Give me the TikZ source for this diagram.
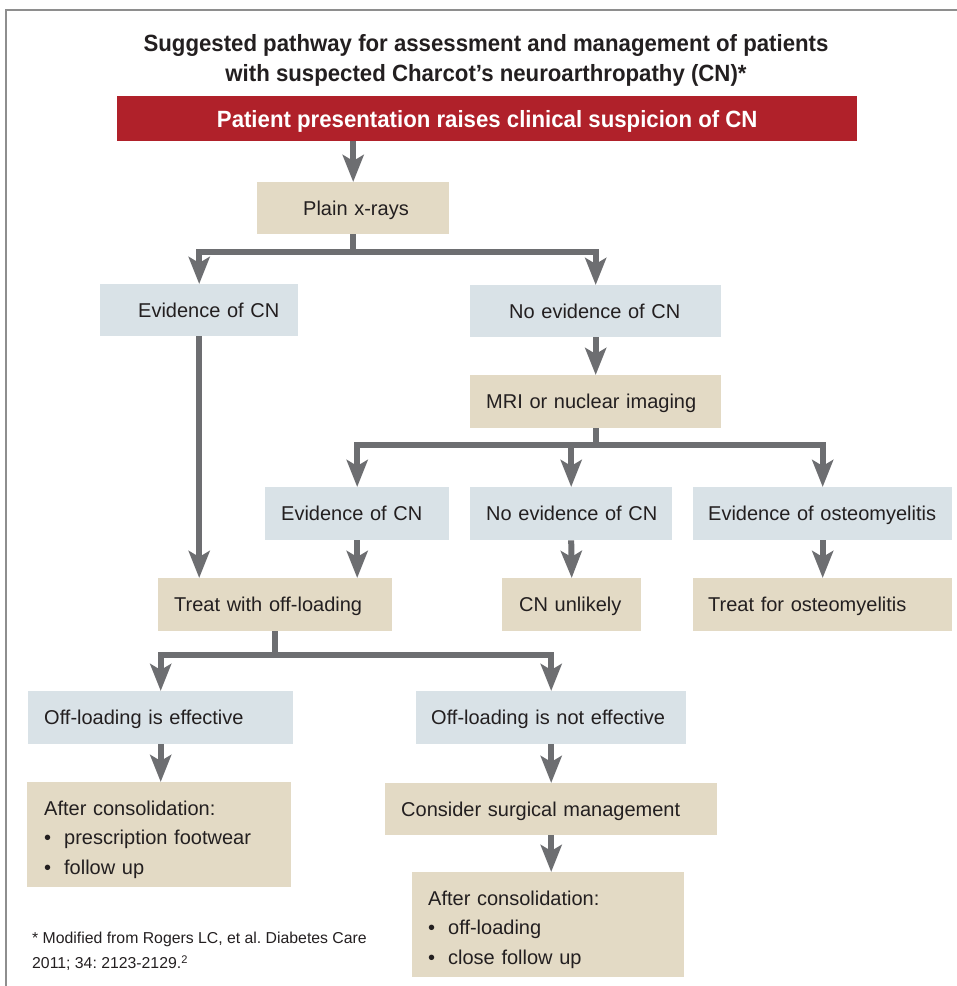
\documentclass[tikz,border=0pt]{standalone}
\usepackage{fontspec}
\setmainfont{Liberation Sans}
\newfontfamily\condfont[FakeStretch=0.945]{Liberation Sans}
\usetikzlibrary{arrows.meta}
\definecolor{cnred}{HTML}{B0212A}
\definecolor{boxbeige}{HTML}{E3DAC5}
\definecolor{boxblue}{HTML}{D9E2E7}
\definecolor{arrowgray}{HTML}{6D6E71}
\definecolor{framegray}{HTML}{8E8E8E}
\definecolor{txtdark}{HTML}{231F20}
\tikzset{lpad/.style = {execute at begin node = {\leftskip=#1\relax}}}
\frenchspacing

\begin{document}
\begin{tikzpicture}[x = 1pt, y = -1pt]
\tikzstyle{BoxStyle}=[anchor = north west,
                      inner sep = 0pt,
                      align = left,
                      minimum height = 53pt,
                      text depth = 0pt,
                      text = txtdark,
                      font = \fontsize{20}{29.5}\selectfont]
\tikzstyle{BeigeBox}=[BoxStyle, fill = boxbeige]
\tikzstyle{BlueBox}=[BoxStyle, fill = boxblue]
\tikzstyle{ListBox}=[BeigeBox, minimum height = 105pt, text depth = {}, text height = 24.3pt]
\tikzstyle{link}=[draw = arrowgray, line width = 6pt]
\tikzstyle{post}=[link, -{Stealth[length = 27pt, width = 21pt, inset = 6pt]}]
\useasboundingbox (0,0) rectangle (957,986);
% frame
\draw[framegray, line width = 2pt] (6,986) -- (6,10) -- (957,10);
% title
\node[font = \condfont\bfseries\fontsize{23.5}{29.5}\selectfont, align = center, text = txtdark] (title) at (486,60.5)
  {Suggested pathway for assessment and management of patients\\with suspected Charcot’s neuroarthropathy (CN)*};
\node[anchor = north west, fill = cnred, minimum width = 740pt, minimum height = 45pt, inner sep = 0pt, text depth = 0pt,
      text = white, font = \condfont\bfseries\fontsize{23.5}{29}\selectfont] (present) at (117,96)
  {Patient presentation raises clinical suspicion of CN};
% boxes
\node[BeigeBox, text width = 192pt, lpad = 46pt, minimum height = 52pt] (xray) at (257,182) {Plain x-rays};
\node[BlueBox, text width = 198pt, lpad = 38pt, minimum height = 52pt] (evidA) at (100,284) {Evidence of CN};
\node[BlueBox, text width = 251pt, lpad = 39pt, minimum height = 52pt] (noevidA) at (470,285) {No evidence of CN};
\node[BeigeBox, text width = 251pt, lpad = 16pt] (mri) at (470,375) {MRI or nuclear imaging};
\node[BlueBox, text width = 184pt, lpad = 16pt] (evidB) at (265,487) {Evidence of CN};
\node[BlueBox, text width = 202pt, lpad = 16pt] (noevidB) at (470,487) {No evidence of CN};
\node[BlueBox, text width = 259pt, lpad = 15pt] (osteo) at (693,487) {Evidence of osteomyelitis};
\node[BeigeBox, text width = 234pt, lpad = 16pt] (offload) at (158,578) {Treat with off-loading};
\node[BeigeBox, text width = 139pt, lpad = 17pt] (unlikely) at (502,578) {CN unlikely};
\node[BeigeBox, text width = 259pt, lpad = 15pt] (treatost) at (693,578) {Treat for osteomyelitis};
\node[BlueBox, text width = 265pt, lpad = 16pt] (works) at (28,691) {Off-loading is effective};
\node[BlueBox, text width = 270pt, lpad = 15pt] (fails) at (416,691) {Off-loading is not effective};
\node[ListBox, text width = 264pt, lpad = 17pt] (afterA) at (27,782)
  {After consolidation:\\\makebox[20pt][l]{\textbullet}prescription footwear\\\makebox[20pt][l]{\textbullet}follow up};
\node[BeigeBox, text width = 332pt, lpad = 16pt, minimum height = 52pt] (surgery) at (385,783) {Consider surgical management};
\node[ListBox, text width = 272pt, lpad = 16pt] (afterB) at (412,872)
  {After consolidation:\\\makebox[20pt][l]{\textbullet}off-loading\\\makebox[20pt][l]{\textbullet}close follow up};
% footnote
\node[anchor = west, inner sep = 0pt, align = left, text = txtdark, font = \fontsize{15.8}{25}\selectfont] (note) at (32,951)
  {* Modified from Rogers LC, et al. Diabetes Care\\2011; 34: 2123-2129.\textsuperscript{2}};
% connectors
\draw[post] (xray.north |- present.south) -- (xray.north);
\draw[link] (xray.south) -- ++(0,18) coordinate (splitA);
\draw[post] (splitA) -| (evidA.north);
\draw[post] (splitA) -| (noevidA.north);
\draw[post] (noevidA.south) -- (mri.north);
\draw[link] (mri.south) -- ++(0,17) coordinate (splitB);
\draw[post] (splitB) -| (evidB.north);
\draw[post] (splitB) -| (noevidB.north);
\draw[post] (splitB) -| (osteo.north);
\draw[post] (evidA.south) -- (evidA.south |- offload.north);
\draw[post] (evidB.south) -- (evidB.south |- offload.north);
\draw[post] (noevidB.south) -- (unlikely.north);
\draw[post] (osteo.south) -- (treatost.north);
\draw[link] (offload.south) -- ++(0,24) coordinate (splitC);
\draw[post] (splitC) -| (works.north);
\draw[post] (splitC) -| (fails.north);
\draw[post] (works.south) -- (works.south |- afterA.north);
\draw[post] (fails.south) -- (fails.south |- surgery.north);
\draw[post] (surgery.south) -- (surgery.south |- afterB.north);
\end{tikzpicture}
\end{document}
